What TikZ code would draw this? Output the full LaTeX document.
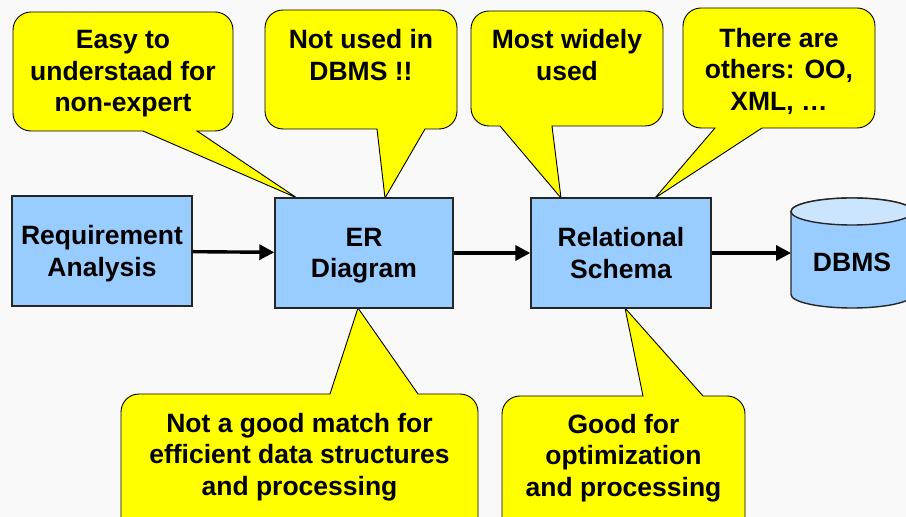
\documentclass[tikz,border=0pt]{standalone}
\usepackage{fontspec}
\setmainfont{Liberation Sans}
\usetikzlibrary{arrows.meta}

\definecolor{boxblue}{RGB}{153,204,255}
\definecolor{capblue}{RGB}{204,229,255}
\definecolor{noteyellow}{RGB}{255,255,0}
\definecolor{paper}{RGB}{249,249,249}

\begin{document}
\begin{tikzpicture}[x=1pt,y=1pt,
    txt/.style={font=\fontsize{26.5}{31.5}\selectfont\bfseries, align=center},
    stage/.style={txt, draw=black!85, line width=1.4pt, fill=boxblue, minimum height=110pt, text depth=0pt},
    note/.style={draw=black, line width=0.9pt, fill=noteyellow},
    flow/.style={line width=3.4pt, -{Triangle[length=15pt,width=15pt]}}]

  % page and background
  \path[use as bounding box, clip] (0,0) rectangle (906,517);
  \fill[paper] (0,0) rectangle (906,517);

  % corner radius of the notes
  \def\rr{18}
  % upper and lower edge of the stage boxes
  \def\ytop{319}
  \def\ybot{209}

  % notes above the boxes, pointer on the lower side
  \foreach \nm/\xl/\xr/\yt/\yb/\pa/\pb/\tx/\cy/\txt in {
      easy/13/233/505/386/143/197/297/443/{Easy to\\understaad for\\non-expert},
      unused/265/457/507/388/377/425/385/462/{Not used in\\DBMS !!},
      widely/471/663/506/391/500/552/561/462/{Most widely\\used},
      others/683/875/509/389/715/762/655/446/{There are\\others: OO,\\XML, …}} {
    \draw[note] ({\xl+\rr},\yt) -- ({\xr-\rr},\yt) arc[start angle=90, end angle=0, radius=\rr]
      -- (\xr,{\yb+\rr}) arc[start angle=0, end angle=-90, radius=\rr]
      -- (\pb,\yb) -- (\tx,\ytop) -- (\pa,\yb)
      -- ({\xl+\rr},\yb) arc[start angle=270, end angle=180, radius=\rr]
      -- (\xl,{\yt-\rr}) arc[start angle=180, end angle=90, radius=\rr] -- cycle;
    \node[txt] (\nm) at ({(\xl+\xr)/2},\cy) {\txt};
  }

  % notes below the boxes, pointer on the upper side
  \foreach \nm/\xl/\xr/\yt/\yb/\pa/\pb/\tx/\cy/\txt in {
      poor/121/478/123/-20/330/418/358/60/{Not a good match for\\efficient data structures\\and processing},
      good/502/745/121/-20/643/703/625/59/{Good for\\optimization\\and processing}} {
    \draw[note] ({\xl+\rr},\yt) -- (\pa,\yt) -- (\tx,\ybot) -- (\pb,\yt)
      -- ({\xr-\rr},\yt) arc[start angle=90, end angle=0, radius=\rr]
      -- (\xr,{\yb+\rr}) arc[start angle=0, end angle=-90, radius=\rr]
      -- ({\xl+\rr},\yb) arc[start angle=270, end angle=180, radius=\rr]
      -- (\xl,{\yt-\rr}) arc[start angle=180, end angle=90, radius=\rr] -- cycle;
    \node[txt] (\nm) at ({(\xl+\xr)/2},\cy) {\txt};
  }

  % stages
  \node[stage, minimum width=180pt] (req) at (102,266) {Requirement\\Analysis};
  \node[stage, minimum width=178pt] (er) at (364,264) {ER\\Diagram};
  \node[stage, minimum width=180pt] (rel) at (621,264) {Relational\\Schema};

  % database cylinder
  \def\cx{852}
  \def\rx{61}
  \def\ry{13.5}
  \filldraw[fill=boxblue, draw=black!85, line width=1.4pt]
    ({\cx-\rx},{\ytop-\ry}) -- ({\cx-\rx},{\ybot+\ry})
    arc[start angle=180, end angle=360, x radius=\rx, y radius=\ry]
    -- ({\cx+\rx},{\ytop-\ry})
    arc[start angle=0, end angle=180, x radius=\rx, y radius=\ry] -- cycle;
  \filldraw[fill=capblue, draw=black!85, line width=1.4pt]
    (\cx,{\ytop-\ry}) ellipse[x radius=\rx, y radius=\ry];
  \node[txt] (dbms) at (\cx,255) {DBMS};
  \coordinate (dbin) at ({\cx-\rx},264);

  % flow between the stages
  \draw[flow] (req) -- (er);
  \draw[flow] (er) -- (rel);
  \draw[flow] (rel) -- (dbin);
\end{tikzpicture}
\end{document}
